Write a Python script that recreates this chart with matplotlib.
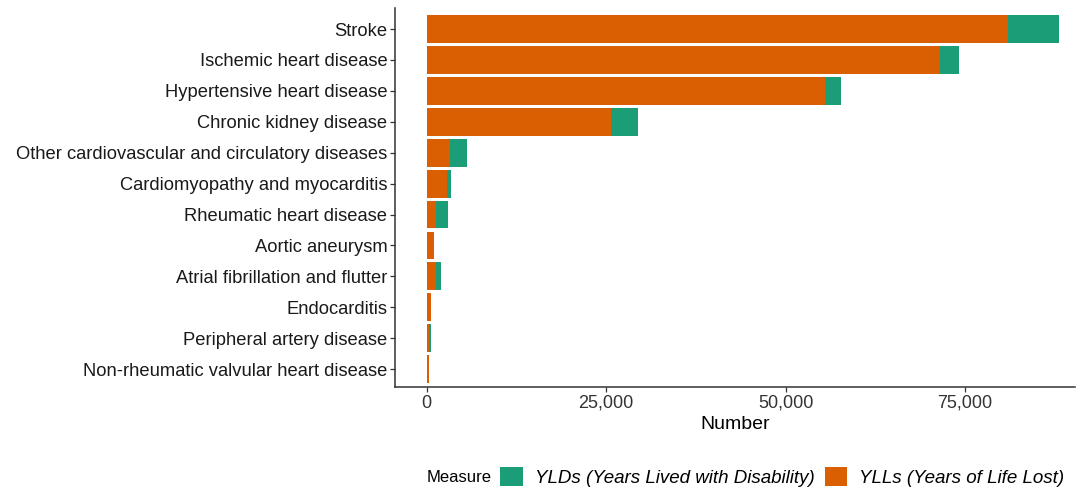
import numpy as np
import matplotlib
matplotlib.use("Agg")
import matplotlib.pyplot as plt
from matplotlib.patches import Patch

plt.rcParams['font.family'] = ['Liberation Sans', 'DejaVu Sans']

# data
causes = ["Stroke", "Ischemic heart disease", "Hypertensive heart disease",
          "Chronic kidney disease", "Other cardiovascular and circulatory diseases",
          "Cardiomyopathy and myocarditis", "Rheumatic heart disease",
          "Aortic aneurysm", "Atrial fibrillation and flutter", "Endocarditis",
          "Peripheral artery disease", "Non-rheumatic valvular heart disease"]
ylls = [81000, 71500, 55500, 25700, 3300, 2850, 1320, 1000, 1320, 670, 390, 390]
ylds = [7100, 2700, 2200, 3800, 2400, 600, 1630, 20, 660, 20, 190, 20]

col_yld = "#1B9E77"
col_yll = "#D95F02"

fig = plt.figure(figsize=(10.8, 4.9), dpi=100)
ax = fig.add_axes([395/1080, 1 - 387/490, 680/1080, 379/490])

y = np.arange(len(causes))
ax.barh(y, ylls, height=0.9, color=col_yll, edgecolor="none")
ax.barh(y, ylds, left=ylls, height=0.9, color=col_yld, edgecolor="none")

ax.set_yticks(y)
ax.set_yticklabels(causes, fontsize=13.2, color="#1a1a1a")
ax.set_ylim(len(causes) - 1 + 0.58, -0.68)
ax.set_xlim(-4390, 90300)
ax.set_xticks([0, 25000, 50000, 75000])
ax.set_xticklabels(["0", "25,000", "50,000", "75,000"], fontsize=13, color="#333333")
ax.set_xlabel("Number", fontsize=14, labelpad=3)

for s in ["top", "right"]:
    ax.spines[s].set_visible(False)
for s in ["left", "bottom"]:
    ax.spines[s].set_color("#333333")
    ax.spines[s].set_linewidth(1.1)
ax.tick_params(axis="both", length=3.5, width=0.9, color="#333333", pad=2)

fig.text(427/1080, 1 - 477/490, "Measure", fontsize=12, va="center", ha="left")
handles = [Patch(facecolor=col_yld, edgecolor="none"),
           Patch(facecolor=col_yll, edgecolor="none")]
labels = ["YLDs (Years Lived with Disability)", "YLLs (Years of Life Lost)"]
leg = fig.legend(handles, labels, loc="center left", bbox_to_anchor=(500/1080, 1 - 477/490),
                 ncol=2, frameon=False, prop={"size": 13.5, "style": "italic"},
                 handlelength=1.2, handleheight=1.2, handletextpad=0.65,
                 columnspacing=0.55, borderpad=0, borderaxespad=0)

fig.savefig("out.png", dpi=100)
